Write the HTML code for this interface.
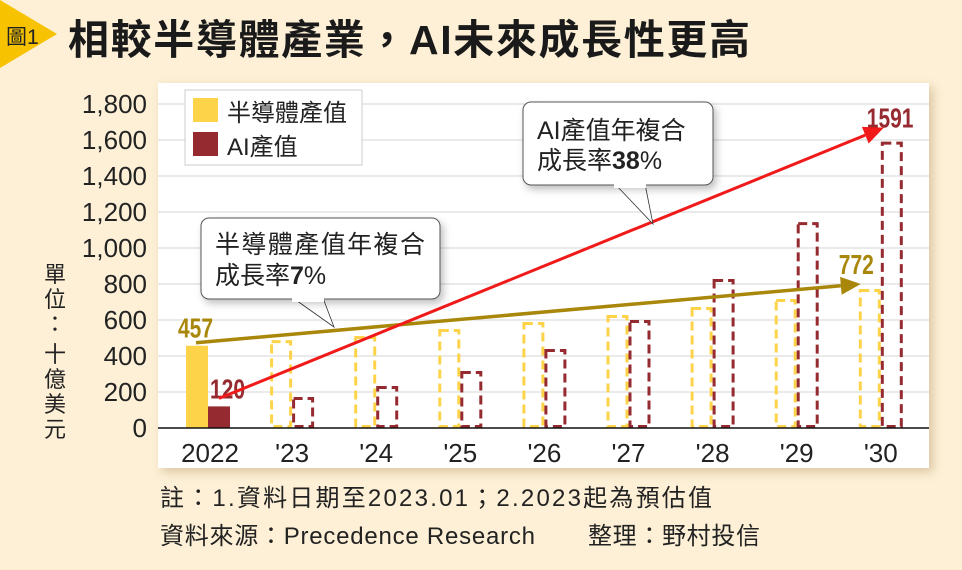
<!DOCTYPE html>
<html><head><meta charset="utf-8"><style>
html,body{margin:0;padding:0;background:#fdf0d6;}
svg{display:block;font-family:"Liberation Sans","Noto Sans CJK TC",sans-serif;}
</style></head><body>
<svg id="chart" width="962" height="570" viewBox="0 0 962 570" xmlns="http://www.w3.org/2000/svg">
<defs>
<filter id="sh" x="-10%" y="-10%" width="130%" height="140%"><feDropShadow dx="3" dy="4" stdDeviation="4" flood-color="#000" flood-opacity="0.25"/></filter>
<filter id="psh" x="-5%" y="-5%" width="110%" height="110%"><feDropShadow dx="4" dy="4" stdDeviation="5" flood-color="#b09060" flood-opacity="0.45"/></filter>
</defs>
<rect width="962" height="570" fill="#fdf0d6"/>
<polygon points="0,0 57,34 0,68" fill="#f7c300"/>
<text x="6" y="44" font-size="21" fill="#222">圖1</text>
<text x="68" y="54" font-size="41" font-weight="bold" fill="#1a1a1a" textLength="682" lengthAdjust="spacing">相較半導體產業，AI未來成長性更高</text>
<rect x="158" y="83" width="771" height="385" fill="#fff" filter="url(#psh)"/>
<g id="grid"></g>
<g id="bars"></g>
<line x1="158" y1="428" x2="929" y2="428" stroke="#111" stroke-width="1.5"/>
<g id="yticks"></g>
<g id="xticks"></g>
<text font-size="22" fill="#222">
<tspan x="44" y="282">單</tspan><tspan x="44" y="307">位</tspan><tspan x="44" y="332">：</tspan><tspan x="44" y="362">十</tspan><tspan x="44" y="387">億</tspan><tspan x="44" y="412">美</tspan><tspan x="44" y="437">元</tspan></text>
<g>
<rect x="185" y="90" width="177" height="75" fill="#fff" stroke="#ccc"/>
<rect x="193" y="98" width="25" height="24" fill="#fdd34a"/>
<text x="227" y="121" font-size="24" fill="#222">半導體產值</text>
<rect x="193" y="132" width="25" height="24" fill="#952b30"/>
<text x="227" y="155" font-size="24" fill="#222">AI產值</text>
</g>
<g id="trend"></g>
<g>
<path d="M293,298 L334,327 L323,298" fill="#fff" stroke="#333" stroke-width="0.8"/>
<rect x="201" y="218" width="239" height="81" rx="8" fill="#fff" stroke="#555" filter="url(#sh)"/>
<rect x="292" y="294" width="32" height="8" fill="#fff"/>
<text x="215" y="253" font-size="25" fill="#222" textLength="210">半導體產值年複合</text>
<text x="215" y="284" font-size="25" fill="#222">成長率<tspan font-weight="bold">7</tspan>%</text>
</g>
<g>
<path d="M615,184 L653,224 L645,184" fill="#fff" stroke="#333" stroke-width="0.8"/>
<rect x="523" y="102" width="190" height="83" rx="8" fill="#fff" stroke="#555" filter="url(#sh)"/>
<rect x="614" y="180" width="32" height="8" fill="#fff"/>
<text x="537" y="139" font-size="25" fill="#222">AI產值年複合</text>
<text x="537" y="169" font-size="25" fill="#222">成長率<tspan font-weight="bold">38</tspan>%</text>
</g>
<text x="160" y="506" font-size="24" fill="#222" textLength="552">註：1.資料日期至2023.01；2.2023起為預估值</text>
<text x="160" y="544" font-size="24" fill="#222" textLength="375">資料來源：Precedence Research</text>
<text x="588" y="544" font-size="24" fill="#222" textLength="172">整理：野村投信</text>
</svg>
<script>
const categories = ["2022","'23","'24","'25","'26","'27","'28","'29","'30"];
const semiValues = [457,488,511,550,589,628,672,717,772];
const aiValues = [120,172,233,317,439,600,828,1144,1591];
const yTicks = [0,200,400,600,800,1000,1200,1400,1600,1800];
const yTickLabels = ["0","200","400","600","800","1,000","1,200","1,400","1,600","1,800"];
const trendSemi = [457,772];
const trendAi = [120,1591];

const NS="http://www.w3.org/2000/svg";
const y0=428, yPerUnit=36/200;
function yScale(v){return y0-v*yPerUnit;}
function xCenter(i){return 208+i*84.1;}
function mk(tag,attrs,parent){const e=document.createElementNS(NS,tag);for(const k in attrs)e.setAttribute(k,attrs[k]);parent.appendChild(e);return e;}
const grid=document.getElementById('grid'),yt=document.getElementById('yticks'),xt=document.getElementById('xticks'),bars=document.getElementById('bars'),tr=document.getElementById('trend');
yTicks.forEach((t,i)=>{
  if(t>0){const l=mk('line',{x1:158,x2:929,y1:yScale(t),y2:yScale(t),stroke:'#d4d4d4','stroke-width':1},grid);
  
  }
  const tx=mk('text',{x:147,y:yScale(t)+9,'text-anchor':'end','font-size':26,fill:'#222'},yt);
  tx.textContent=yTickLabels[i];
  
  
});
categories.forEach((c,i)=>{
  const cx=xCenter(i);
  const tx=mk('text',{x:cx+(i===0?2:0),y:462,'text-anchor':'middle','font-size':26,fill:'#222'},xt);
  tx.textContent=c;
  
  
  const w=22;
  const sy=yScale(semiValues[i]), ay=yScale(aiValues[i]);
  let b1,b2;
  if(i===0){
    b1=mk('rect',{x:cx-w,y:sy,width:w,height:y0-sy,fill:'#fdd34a'},bars);
    b2=mk('rect',{x:cx,y:ay,width:w,height:y0-ay,fill:'#952b30'},bars);
  }else{
    b1=mk('rect',{x:cx-w+1.5,y:sy+1.5,width:w-3,height:y0-sy-3,fill:'none',stroke:'#fdd34a','stroke-width':3,'stroke-dasharray':'9,5'},bars);
    b2=mk('rect',{x:cx+1.5,y:ay+1.5,width:w-3,height:y0-ay-3,fill:'none',stroke:'#952b30','stroke-width':3,'stroke-dasharray':'9,5'},bars);
  }
  
  
  
  
});
const n=categories.length-1;
const lbls=[[xCenter(0)-30,yScale(semiValues[0])-8,String(semiValues[0]),'#a8870a'],
 [xCenter(0)+2,yScale(aiValues[0])-8,String(aiValues[0]),'#952b30'],
 [xCenter(n)-42,yScale(semiValues[n])-15,String(semiValues[n]),'#a8870a'],
 [xCenter(n)-14,yScale(aiValues[n])-14,String(aiValues[n]),'#952b30']];
lbls.forEach(l=>{const t=mk('text',{x:l[0],y:l[1],'font-size':28,'font-weight':'bold',fill:l[3],transform:`translate(${l[0]},0) scale(0.75,1) translate(${-l[0]},0)`},tr);t.textContent=l[2];
  
  });
function arrow(x1,y1,x2,y2,col,w,name){
  const ang=Math.atan2(y2-y1,x2-x1),L=20,H=9;
  const bx=x2-L*Math.cos(ang),by=y2-L*Math.sin(ang);
  const l=mk('line',{x1,y1,x2:bx,y2:by,stroke:col,'stroke-width':w},tr);
  
  
  const p=mk('polygon',{points:`${x2},${y2} ${bx-H*Math.sin(ang)},${by+H*Math.cos(ang)} ${bx+H*Math.sin(ang)},${by-H*Math.cos(ang)}`,fill:col},tr);
  
  
}
arrow(xCenter(0)-12,yScale(trendSemi[0])-3,xCenter(n)-20,yScale(trendSemi[1])-5,'#a8870a',3.5,'semiconductor-trend-arrow');
arrow(xCenter(0)+11,yScale(trendAi[0])-8,xCenter(n)+3,yScale(trendAi[1])-14,'#f01a1a',3,'ai-trend-arrow');
</script>
</body></html>
